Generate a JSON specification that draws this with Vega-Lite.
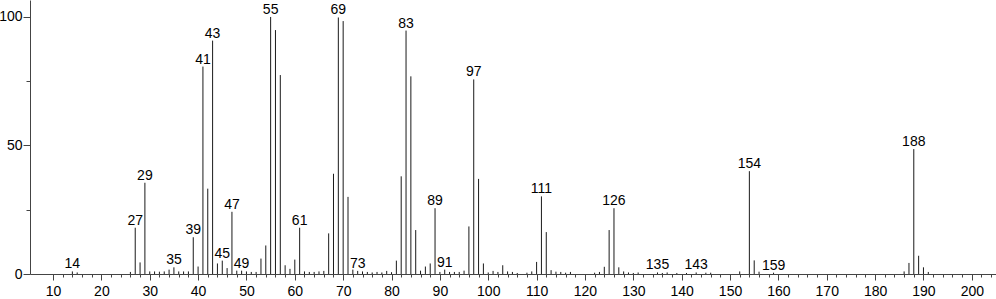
{
  "$schema": "https://vega.github.io/schema/vega-lite/v6.json",
  "width": 966,
  "height": 274,
  "autosize": "none",
  "padding": {"left": 30, "top": 0, "right": 0, "bottom": 25},
  "background": "white",
  "config": {"view": {"stroke": null}, "font": "Liberation Sans"},
  "data": {"values": [
    {"mz": 14, "i": 1.0, "lab": true}, {"mz": 15, "i": 0.6},
    {"mz": 26, "i": 0.8}, {"mz": 27, "i": 18.0, "lab": true}, {"mz": 28, "i": 4.5}, {"mz": 29, "i": 35.5, "lab": true},
    {"mz": 30, "i": 1.0}, {"mz": 31, "i": 1.0}, {"mz": 32, "i": 0.9}, {"mz": 33, "i": 1.0}, {"mz": 34, "i": 1.7},
    {"mz": 35, "i": 2.6, "lab": true}, {"mz": 36, "i": 1.0}, {"mz": 37, "i": 1.0}, {"mz": 38, "i": 1.0},
    {"mz": 39, "i": 14.3, "lab": true}, {"mz": 40, "i": 2.9}, {"mz": 41, "i": 80.7, "lab": true}, {"mz": 42, "i": 33.2},
    {"mz": 43, "i": 90.8, "lab": true}, {"mz": 44, "i": 4.1}, {"mz": 45, "i": 5.2, "lab": true}, {"mz": 46, "i": 2.3},
    {"mz": 47, "i": 24.2, "lab": true}, {"mz": 48, "i": 1.3}, {"mz": 49, "i": 1.3, "lab": true}, {"mz": 50, "i": 1.0},
    {"mz": 51, "i": 0.8}, {"mz": 52, "i": 0.8}, {"mz": 53, "i": 6.0}, {"mz": 54, "i": 11.1},
    {"mz": 55, "i": 100.0, "lab": true}, {"mz": 56, "i": 94.9}, {"mz": 57, "i": 77.4}, {"mz": 58, "i": 3.4},
    {"mz": 59, "i": 2.0}, {"mz": 60, "i": 5.6}, {"mz": 61, "i": 18.0, "lab": true}, {"mz": 62, "i": 1.0},
    {"mz": 63, "i": 0.8}, {"mz": 64, "i": 0.8}, {"mz": 65, "i": 1.0}, {"mz": 66, "i": 1.2},
    {"mz": 67, "i": 15.8}, {"mz": 68, "i": 39.0}, {"mz": 69, "i": 99.8, "lab": true}, {"mz": 70, "i": 98.4},
    {"mz": 71, "i": 30.0}, {"mz": 72, "i": 1.7}, {"mz": 73, "i": 1.2, "lab": true}, {"mz": 74, "i": 1.0},
    {"mz": 75, "i": 0.8}, {"mz": 76, "i": 0.6}, {"mz": 77, "i": 0.8}, {"mz": 78, "i": 0.6}, {"mz": 79, "i": 1.2},
    {"mz": 80, "i": 0.7}, {"mz": 81, "i": 5.2}, {"mz": 82, "i": 38.0}, {"mz": 83, "i": 94.7, "lab": true},
    {"mz": 84, "i": 76.9}, {"mz": 85, "i": 17.1}, {"mz": 86, "i": 1.3}, {"mz": 87, "i": 2.9}, {"mz": 88, "i": 4.1},
    {"mz": 89, "i": 25.6, "lab": true}, {"mz": 90, "i": 0.8}, {"mz": 91, "i": 1.7, "lab": true}, {"mz": 92, "i": 0.8},
    {"mz": 93, "i": 0.8}, {"mz": 94, "i": 0.8}, {"mz": 95, "i": 1.3}, {"mz": 96, "i": 18.5},
    {"mz": 97, "i": 75.7, "lab": true}, {"mz": 98, "i": 37.0}, {"mz": 99, "i": 4.1}, {"mz": 100, "i": 0.6},
    {"mz": 101, "i": 1.2}, {"mz": 102, "i": 0.8}, {"mz": 103, "i": 3.4}, {"mz": 104, "i": 1.0}, {"mz": 105, "i": 0.8},
    {"mz": 106, "i": 0.4}, {"mz": 108, "i": 0.5}, {"mz": 109, "i": 1.0}, {"mz": 110, "i": 4.7},
    {"mz": 111, "i": 30.2, "lab": true}, {"mz": 112, "i": 16.3}, {"mz": 113, "i": 1.5}, {"mz": 114, "i": 0.9},
    {"mz": 115, "i": 0.8}, {"mz": 116, "i": 0.5}, {"mz": 117, "i": 0.8}, {"mz": 122, "i": 0.5}, {"mz": 123, "i": 0.8},
    {"mz": 124, "i": 2.8}, {"mz": 125, "i": 17.1}, {"mz": 126, "i": 25.6, "lab": true}, {"mz": 127, "i": 2.6},
    {"mz": 128, "i": 1.0}, {"mz": 129, "i": 0.6}, {"mz": 130, "i": 0.4}, {"mz": 131, "i": 0.6},
    {"mz": 135, "i": 0.6, "lab": true}, {"mz": 136, "i": 0.4}, {"mz": 137, "i": 0.6}, {"mz": 139, "i": 0.4},
    {"mz": 141, "i": 0.4}, {"mz": 143, "i": 0.6, "lab": true}, {"mz": 145, "i": 0.5}, {"mz": 146, "i": 0.5},
    {"mz": 152, "i": 1.0}, {"mz": 154, "i": 40.0, "lab": true}, {"mz": 155, "i": 5.3}, {"mz": 156, "i": 0.9},
    {"mz": 159, "i": 0.5, "lab": true}, {"mz": 186, "i": 1.0}, {"mz": 187, "i": 4.3},
    {"mz": 188, "i": 48.6, "lab": true}, {"mz": 189, "i": 7.1}, {"mz": 190, "i": 2.6}, {"mz": 191, "i": 0.8}
  ]},
  "encoding": {
    "x": {
      "field": "mz", "type": "quantitative",
      "scale": {"domain": [5.24, 205], "nice": false, "zero": false},
      "axis": {
        "title": null, "grid": false,
        "values": [10,12,14,16,18,20,22,24,26,28,30,32,34,36,38,40,42,44,46,48,50,52,54,56,58,60,62,64,66,68,70,72,74,76,78,80,82,84,86,88,90,92,94,96,98,100,102,104,106,108,110,112,114,116,118,120,122,124,126,128,130,132,134,136,138,140,142,144,146,148,150,152,154,156,158,160,162,164,166,168,170,172,174,176,178,180,182,184,186,188,190,192,194,196,198,200,202,204],
        "labelExpr": "datum.value % 10 === 0 ? datum.label : ''",
        "tickSize": {"condition": {"test": "datum.value % 10 === 0", "value": 6}, "value": 3},
        "domainColor": "#444", "tickColor": "#444", "labelColor": "#000",
        "labelFontSize": 14, "labelPadding": 4, "labelFlush": false, "labelOverlap": false
      }
    },
    "y": {
      "field": "i", "type": "quantitative",
      "scale": {"domain": [0, 106.6], "nice": false},
      "axis": {
        "title": null, "grid": false,
        "values": [0, 25, 50, 75, 100],
        "labelExpr": "datum.value % 50 === 0 ? datum.label : ''",
        "tickSize": {"condition": {"test": "datum.value % 50 === 0", "value": 7}, "value": 4},
        "domainColor": "#444", "tickColor": "#444", "labelColor": "#000",
        "labelFontSize": 14, "labelPadding": 1, "labelFlush": false, "labelOverlap": false
      }
    }
  },
  "layer": [
    {
      "mark": {"type": "rule", "color": "#1a1a1a", "strokeWidth": 1},
      "encoding": {"y2": {"datum": 0}}
    },
    {
      "transform": [{"filter": "datum.lab"}],
      "mark": {"type": "text", "baseline": "alphabetic", "dy": -3, "fontSize": 14, "color": "#000"},
      "encoding": {
        "text": {"field": "mz", "type": "quantitative", "format": "d"}
      }
    }
  ]
}
